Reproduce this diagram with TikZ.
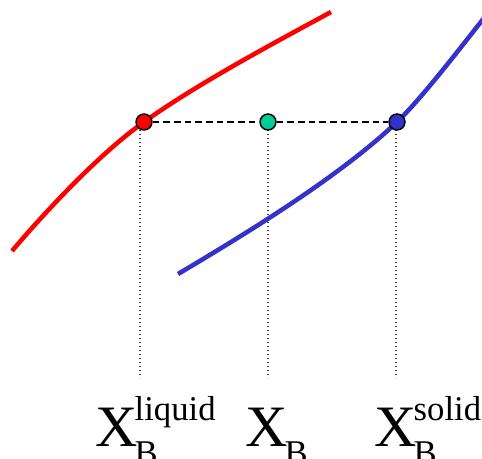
\documentclass[tikz,border=0pt]{standalone}
\usepackage{fontspec}
\setmainfont{Liberation Serif}
\definecolor{liqred}{RGB}{255,0,0}
\definecolor{solblue}{RGB}{51,51,204}
\definecolor{midgreen}{RGB}{0,204,153}
\definecolor{dotgray}{RGB}{60,60,60}
\newcommand\mainsz{\fontsize{44pt}{44pt}\selectfont}
\newcommand\scrsz{\fontsize{26pt}{26pt}\selectfont}
\newcommand\Xlab[1]{\mainsz X\kern-2pt\rlap{\raisebox{20pt}{\scrsz #1}}\raisebox{-13pt}{\scrsz B}}
\begin{document}
\begin{tikzpicture}[x=0.75pt,y=-0.75pt,
  curve/.style={line width=3.4pt},
  phasedot/.style={circle,draw=black,line width=1.1pt,minimum size=12pt,inner sep=0pt},
  tieline/.style={draw=black,line width=1.2pt,dash pattern=on 5pt off 3pt},
  dropline/.style={draw=dotgray,line width=0.9pt,dash pattern=on 1.1pt off 1.9pt},
  lab/.style={anchor=base west,inner sep=0pt,outer sep=0pt}]
\useasboundingbox (0,0) rectangle (482,459);
% curves
\draw[curve,liqred] (12,251) .. controls (51,205) and (103,151) .. (144,122)
  .. controls (197,84) and (274,43) .. (331,12);
\draw[curve,solblue] (178,274) .. controls (247,233) and (339,177) .. (397,122)
  .. controls (422,98) and (461,47) .. (484,18);
% coordinates for drop lines
\coordinate (lt) at (140,130);
\coordinate (lb) at (140,378);
\coordinate (mt) at (268,130);
\coordinate (mb) at (268,378);
\coordinate (st) at (396,130);
\coordinate (sb) at (396,378);
\draw[dropline] (lt) -- (lb);
\draw[dropline] (mt) -- (mb);
\draw[dropline] (st) -- (sb);
% dots
\node[phasedot,fill=liqred] (dl) at (144,122) {};
\node[phasedot,fill=midgreen] (dm) at (268,122) {};
\node[phasedot,fill=solblue] (ds) at (397,122) {};
\draw[tieline] (dl) -- (dm);
\draw[tieline] (dm) -- (ds);
% labels
\node[lab] (xl) at (95,447) {\Xlab{liquid}};
\node[lab] (xm) at (245,447) {\mainsz X\kern-2pt\raisebox{-13pt}{\scrsz B}};
\node[lab] (xs) at (374,447) {\Xlab{solid}};
\end{tikzpicture}
\end{document}
